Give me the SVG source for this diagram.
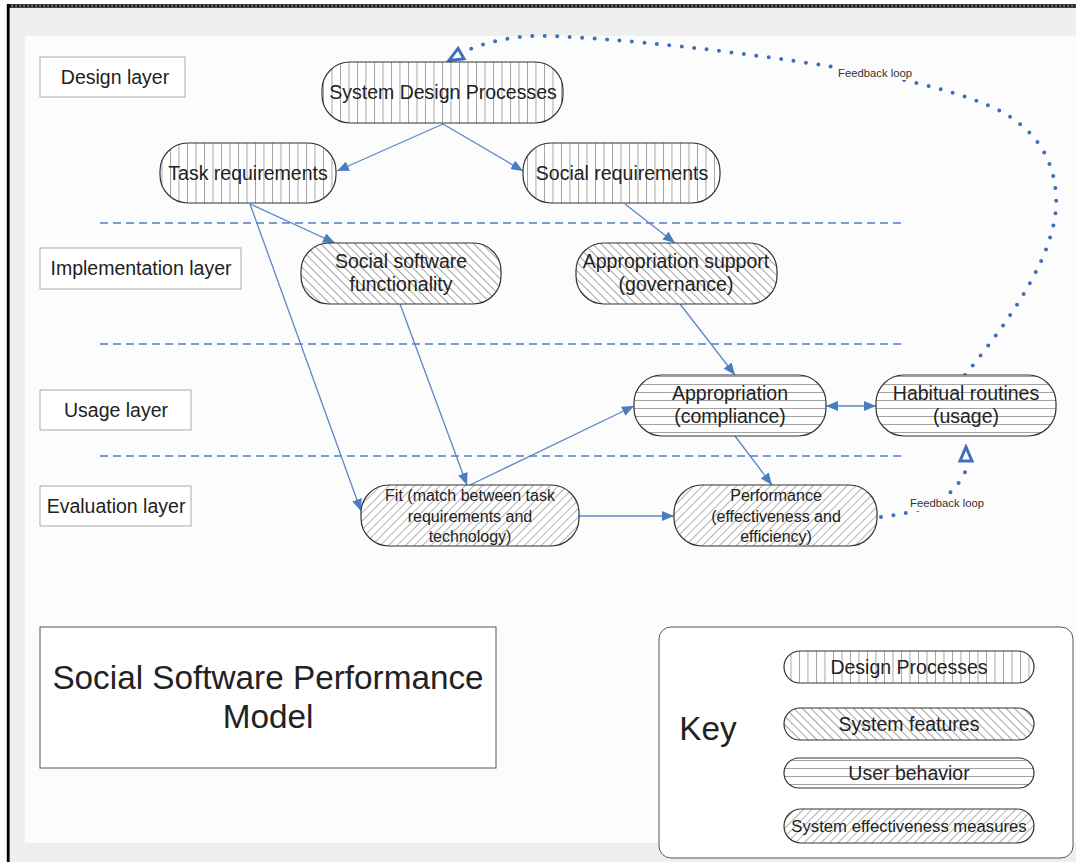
<svg xmlns="http://www.w3.org/2000/svg" width="1076" height="862" viewBox="0 0 1076 862">
<style>
text{font-family:"Liberation Sans",Arial,sans-serif;fill:#222;text-anchor:middle}
.n{font-size:19.5px}
.s{font-size:16px}
.k{font-size:19.5px}
.lay{fill:#fff;stroke:#aaa;stroke-width:1}
.nd{stroke:#333;stroke-width:1.2}
.c{fill:none;stroke:#5b87c9;stroke-width:1.3}
.sep{fill:none;stroke:#4f7fc0;stroke-width:1.3;stroke-dasharray:8 5}
.fb{fill:none;stroke:#3e6fba;stroke-width:4;stroke-linecap:round;stroke-dasharray:0 12.5}
.lbl{font-size:11.3px;text-anchor:start;fill:#333}
.lb{fill:#fcfcfc}
</style>
<defs>
<pattern id="pV" patternUnits="userSpaceOnUse" width="8.5" height="10"><rect width="8.5" height="10" fill="#fff"/><line x1="0.5" y1="0" x2="0.5" y2="10" stroke="#999" stroke-width="0.9"/></pattern>
<pattern id="pH" patternUnits="userSpaceOnUse" width="10" height="8"><rect width="10" height="8" fill="#fff"/><line x1="0" y1="0.5" x2="10" y2="0.5" stroke="#999" stroke-width="0.9"/></pattern>
<pattern id="pB" patternUnits="userSpaceOnUse" width="6" height="10" patternTransform="rotate(-45)"><rect width="6" height="10" fill="#fff"/><line x1="0.5" y1="0" x2="0.5" y2="10" stroke="#999" stroke-width="0.9"/></pattern>
<pattern id="pF" patternUnits="userSpaceOnUse" width="6" height="10" patternTransform="rotate(45)"><rect width="6" height="10" fill="#fff"/><line x1="0.5" y1="0" x2="0.5" y2="10" stroke="#aaa" stroke-width="0.9"/></pattern>
<marker id="arr" markerUnits="userSpaceOnUse" viewBox="0 0 12 10" refX="12" refY="5" markerWidth="12" markerHeight="10" orient="auto-start-reverse"><path d="M0,0 L12,5 L0,10 z" fill="#4a7cc0"/></marker>
<marker id="open" markerUnits="userSpaceOnUse" viewBox="0 0 20 18" refX="18" refY="9" markerWidth="20" markerHeight="18" orient="auto"><path d="M3,3 L17,9 L3,15 z" fill="#fff" stroke="#3e6fba" stroke-width="3" stroke-linejoin="miter"/></marker>
</defs>

<g id="frame">
<rect x="0" y="0" width="1076" height="862" fill="#fff"/>
<rect x="9" y="8" width="1067" height="854" fill="#efefef"/>
<rect x="25" y="36" width="1051" height="807" fill="#fcfcfc"/>
<line x1="7" y1="6" x2="1076" y2="6" stroke="#000" stroke-width="3.5"/>
<line x1="7" y1="6" x2="1076" y2="6" stroke="#fff" stroke-width="0.8" stroke-dasharray="2.5 1.5"/>
<line x1="8.2" y1="4" x2="8.2" y2="862" stroke="#000" stroke-width="2.8"/>
</g>

<g id="separators">
<line class="sep" x1="100" y1="223" x2="905" y2="223"/>
<line class="sep" x1="100" y1="344" x2="905" y2="344"/>
<line class="sep" x1="100" y1="456" x2="905" y2="456"/>
</g>

<g id="layer-design"><rect class="lay" x="40" y="57" width="145" height="40"/><text class="n" x="115" y="84">Design layer</text></g>
<g id="layer-implementation"><rect class="lay" x="40" y="248" width="201" height="41"/><text class="n" x="141" y="275">Implementation layer</text></g>
<g id="layer-usage"><rect class="lay" x="40" y="390" width="151" height="40"/><text class="n" x="116" y="417">Usage layer</text></g>
<g id="layer-evaluation"><rect class="lay" x="40" y="486" width="151" height="40"/><text class="n" x="116" y="513">Evaluation layer</text></g>

<g id="connectors">
<path class="c" d="M443,124 L337,171" marker-end="url(#arr)"/>
<path class="c" d="M443,124 L523,171" marker-end="url(#arr)"/>
<path class="c" d="M250,204 L335,243" marker-end="url(#arr)"/>
<path class="c" d="M250,204 L361,511" marker-end="url(#arr)"/>
<path class="c" d="M625,204 L675,243" marker-end="url(#arr)"/>
<path class="c" d="M400,304 L467,485" marker-end="url(#arr)"/>
<path class="c" d="M470,485 L634,406" marker-end="url(#arr)"/>
<path class="c" d="M680,304 L735,375" marker-end="url(#arr)"/>
<path class="c" d="M735,436 L772,485" marker-end="url(#arr)"/>
<path class="c" d="M579,516 L674,516" marker-end="url(#arr)"/>
<path class="c" d="M826,406 L876,406" marker-start="url(#arr)" marker-end="url(#arr)"/>
<path class="fb" d="M965,375 C1010,320 1060,250 1056,195 C1053,145 1020,118 985,104 C940,86 880,74 834,67 C740,52 620,38 547,36 C510,35 478,44 460,54"/>
<path d="M462,53 L448,61" fill="none" stroke="none" marker-end="url(#open)"/>
<path class="fb" d="M881,517 C920,512 950,505 966,470"/>
<path d="M966,462 L966,446" fill="none" stroke="none" marker-end="url(#open)"/>
<rect class="lb" x="836" y="66" width="78" height="14"/>
<text class="lbl" x="838" y="77">Feedback loop</text>
<rect class="lb" x="908" y="497" width="78" height="14"/>
<text class="lbl" x="910" y="507">Feedback loop</text>
</g>

<g id="system-design-processes"><rect class="nd" x="322" y="62" width="241" height="61" rx="28" fill="url(#pV)"/><text class="n" x="443" y="99">System Design Processes</text></g>
<g id="task-requirements"><rect class="nd" x="160" y="143" width="176" height="60" rx="28" fill="url(#pV)"/><text class="n" x="248" y="180">Task requirements</text></g>
<g id="social-requirements"><rect class="nd" x="523" y="143" width="197" height="60" rx="28" fill="url(#pV)"/><text class="n" x="622" y="180">Social requirements</text></g>
<g id="social-software-functionality"><rect class="nd" x="301" y="243" width="200" height="61" rx="28" fill="url(#pB)"/><text class="n" x="401" y="268">Social software</text><text class="n" x="401" y="291">functionality</text></g>
<g id="appropriation-support"><rect class="nd" x="576" y="243" width="201" height="61" rx="28" fill="url(#pB)"/><text class="n" x="676" y="268">Appropriation support</text><text class="n" x="676" y="291">(governance)</text></g>
<g id="appropriation"><rect class="nd" x="634" y="375" width="192" height="61" rx="28" fill="url(#pH)"/><text class="n" x="730" y="400">Appropriation</text><text class="n" x="730" y="423">(compliance)</text></g>
<g id="habitual-routines"><rect class="nd" x="876" y="375" width="180" height="61" rx="28" fill="url(#pH)"/><text class="n" x="966" y="400">Habitual routines</text><text class="n" x="966" y="423">(usage)</text></g>
<g id="fit"><rect class="nd" x="361" y="485" width="218" height="61" rx="28" fill="url(#pF)"/><text class="s" x="470" y="501">Fit (match between task</text><text class="s" x="470" y="522">requirements and</text><text class="s" x="470" y="542">technology)</text></g>
<g id="performance"><rect class="nd" x="674" y="485" width="203" height="61" rx="28" fill="url(#pF)"/><text class="s" x="776" y="501">Performance</text><text class="s" x="776" y="522">(effectiveness and</text><text class="s" x="776" y="542">efficiency)</text></g>

<g id="title"><rect x="40" y="627" width="456" height="141" fill="#fff" stroke="#555" stroke-width="1"/><text x="268" y="689" style="font-size:33.3px">Social Software Performance</text><text x="268" y="728" style="font-size:33.3px">Model</text></g>

<g id="key">
<rect x="659" y="627" width="414" height="231" rx="12" fill="#fff" stroke="#555" stroke-width="1"/>
<text x="708" y="740" style="font-size:33.3px">Key</text>
<rect class="nd" x="784" y="651" width="250" height="32" rx="16" fill="url(#pV)"/><text class="k" x="909" y="674">Design Processes</text>
<rect class="nd" x="784" y="708" width="250" height="32" rx="16" fill="url(#pB)"/><text class="k" x="909" y="731">System features</text>
<rect class="nd" x="784" y="758" width="250" height="30" rx="15" fill="url(#pH)"/><text class="k" x="909" y="780">User behavior</text>
<rect class="nd" x="784" y="809" width="250" height="34" rx="17" fill="url(#pF)"/><text class="k" x="909" y="832" style="font-size:16.7px">System effectiveness measures</text>
</g>
</svg>
